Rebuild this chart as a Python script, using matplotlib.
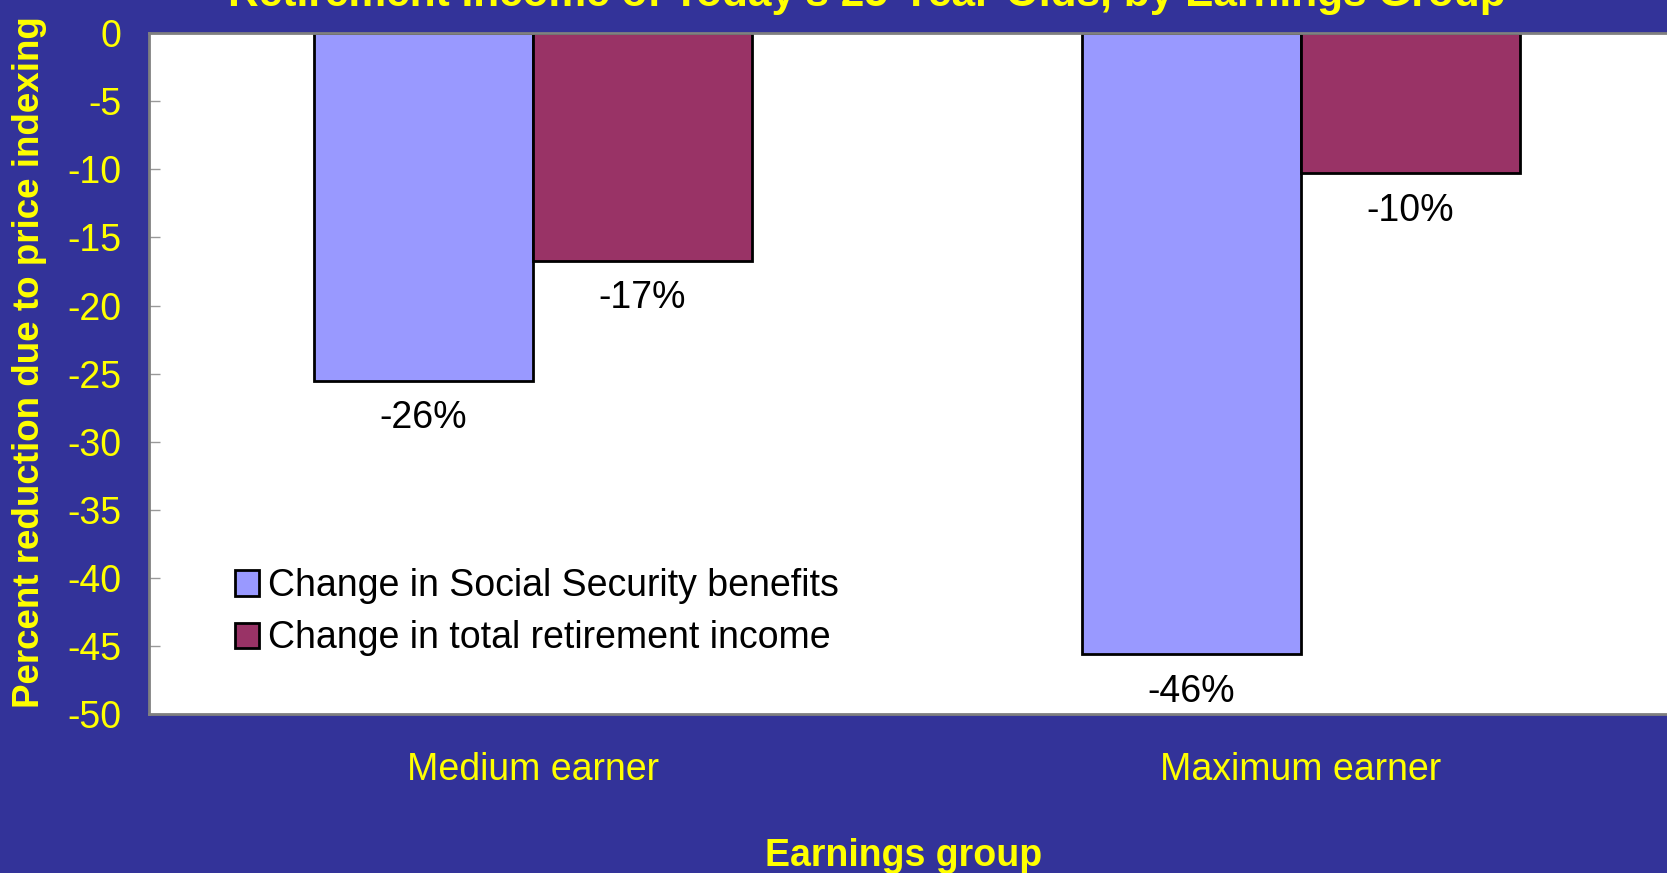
import numpy as np
import matplotlib
matplotlib.use("Agg")
import matplotlib.pyplot as plt

groups = ["Medium earner", "Maximum earner"]
series_names = ["Change in Social Security benefits", "Change in total retirement income"]
ss_change = [-25.5, -45.6]
total_change = [-16.7, -10.3]
ss_labels = ["-26%", "-46%"]
total_labels = ["-17%", "-10%"]
yticks = [0, -5, -10, -15, -20, -25, -30, -35, -40, -45, -50]

BG = "#333399"
YELLOW = "#FFFF00"
BLUE = "#9999FF"
MAROON = "#993366"

plt.rcParams["font.family"] = ["Liberation Sans", "DejaVu Sans"]

fig = plt.figure(figsize=(16.67, 8.73), dpi=100, facecolor=BG)
ax = fig.add_axes([0.0894, 0.1816, 0.9214, 0.7806])
ax.set_facecolor("white")

x = np.arange(len(groups))
w = 0.285
b1 = ax.bar(x - w / 2, ss_change, w, color=BLUE, edgecolor="black", linewidth=2,
            label=series_names[0])
b2 = ax.bar(x + w / 2, total_change, w, color=MAROON, edgecolor="black", linewidth=2,
            label=series_names[1])

# value labels under each bar end
for bars, labs in [(b1, ss_labels), (b2, total_labels)]:
    for r, lab in zip(bars, labs):
        ax.annotate(lab, (r.get_x() + r.get_width() / 2, r.get_height()),
                    xytext=(0, -27), textcoords="offset points",
                    ha="center", va="center", fontsize=27, color="black")

ax.set_xlim(-0.5, 1.5)
ax.set_ylim(-50, 0)
ax.set_yticks(yticks)
ax.set_yticklabels([str(t) for t in yticks])
ax.set_xticks(x)
ax.set_xticklabels(groups)

ax.tick_params(axis="y", direction="in", length=8, width=1, color="#999999",
               labelsize=27, labelcolor=YELLOW, pad=20)
ax.tick_params(axis="x", length=0, labelsize=27, labelcolor=YELLOW, pad=27)

for side in ["left", "top", "bottom", "right"]:
    ax.spines[side].set_color("#808080")
    ax.spines[side].set_linewidth(2)

fig.text(30 / 1667, 1 - 362 / 873, "Percent reduction due to price indexing",
         rotation=90, ha="center", va="center", fontsize=26.5, fontweight="bold",
         color=YELLOW)
fig.text(0.542, 1 - 856 / 873, "Earnings group", ha="center", va="center",
         fontsize=27, fontweight="bold", color=YELLOW)
fig.text(0.52, 1 - 6 / 873, "Retirement Income of Today\u2019s 25-Year-Olds, by Earnings Group",
         ha="center", va="baseline", fontsize=30.5, fontweight="bold", color=YELLOW)

ax.legend(loc="center left", bbox_to_anchor=(0.046, 0.150), frameon=False,
          fontsize=27, handlelength=0.65, handleheight=0.65, handletextpad=0.25,
          labelspacing=0.43, borderaxespad=0)

fig.savefig("out.png", dpi=100, facecolor=BG)
